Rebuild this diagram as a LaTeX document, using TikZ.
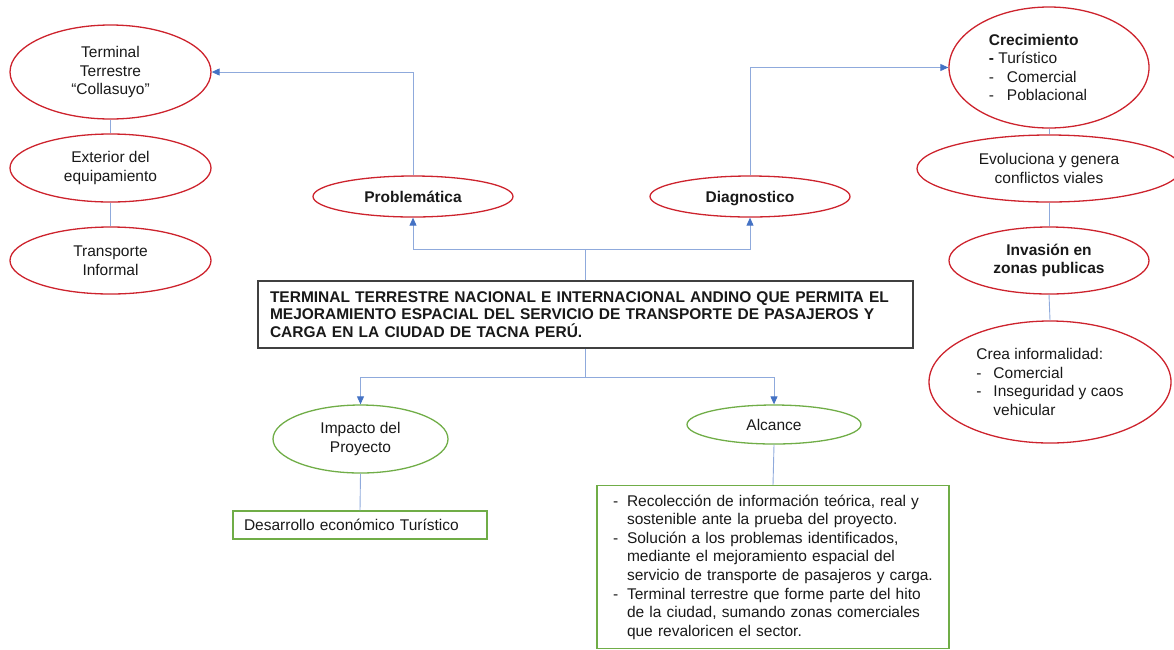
\documentclass[tikz,border=0pt]{standalone}
\usepackage{fontspec}
\setmainfont{Liberation Sans}
\usetikzlibrary{shapes.geometric,arrows.meta}

\definecolor{redline}{RGB}{205,35,45}
\definecolor{greenline}{RGB}{112,173,71}
\definecolor{linkblue}{RGB}{143,170,220}
\definecolor{tipblue}{RGB}{68,114,196}
\definecolor{boxgray}{RGB}{64,64,64}

\tikzset{
  every node/.style={font=\fontsize{15.5}{18.6}\selectfont, text=black!90},
  redell/.style={ellipse, draw=redline, line width=1.3pt, inner sep=0pt, align=center},
  greenell/.style={ellipse, draw=greenline, line width=1.3pt, inner sep=0pt, align=center},
  greenbox/.style={rectangle, draw=greenline, line width=1.3pt, inner ysep=0pt, align=left},
  boldlabel/.style={font=\fontsize{15.5}{18.6}\selectfont\bfseries, text height=12pt, text depth=0pt},
  mainbox/.style={rectangle, draw=boxgray, line width=1.5pt, inner ysep=0pt, inner xsep=12pt,
    align=left, text width=631pt, minimum width=655pt, minimum height=67pt,
    font=\fontsize{15.5}{17.6}\selectfont\bfseries},
  link/.style={draw=linkblue, line width=0.9pt},
  linkarrow/.style={link, -{Triangle[length=8pt,width=7pt,color=tipblue]}},
}

\newcommand{\dashitem}[1]{\makebox[#1][l]{-}}

\begin{document}
\begin{tikzpicture}[x=1pt,y=-1pt]
\useasboundingbox (0,0) rectangle (1174,649);

% left column: problem chain
\node[redell, minimum width=201pt, minimum height=94pt] (t1) at (110.5,72)
  {Terminal\\Terrestre\\“Collasuyo”};
\node[redell, minimum width=201pt, minimum height=68pt] (ext) at (110.5,168)
  {Exterior del\\equipamiento};
\node[redell, minimum width=201pt, minimum height=67pt] (trans) at (110.5,260.5)
  {Transporte\\Informal};

% second level
\node[redell, boldlabel, minimum width=200pt, minimum height=41pt] (prob) at (413,196.5) {Problemática};
\node[redell, boldlabel, minimum width=200pt, minimum height=41pt] (diag) at (750,196.5) {Diagnostico};

% right column: diagnosis chain
\node[redell, align=left, minimum width=200pt, minimum height=121pt] (crec) at (1049,67.5)
  {\textbf{Crecimiento}\\\textbf{-} Turístico\\\dashitem{18pt}Comercial\\\dashitem{18pt}Poblacional\hspace*{22pt}};
\node[redell, minimum width=264pt, minimum height=67pt] (evol) at (1049,168.5)
  {Evoluciona y genera\\conflictos viales};
\node[redell, minimum width=200pt, minimum height=67pt, font=\fontsize{15.5}{18.6}\selectfont\bfseries] (inv) at (1049,260.5)
  {Invasión en\\zonas publicas};
\node[redell, align=left, minimum width=242pt, minimum height=122pt] (crea) at (1050,382)
  {Crea informalidad:\\\dashitem{17pt}Comercial\\\dashitem{17pt}Inseguridad y caos\\\hspace*{17pt}vehicular};

% central title
\node[mainbox] (title) at (585.5,314.5)
  {TERMINAL TERRESTRE NACIONAL E INTERNACIONAL ANDINO QUE PERMITA EL\\
   MEJORAMIENTO ESPACIAL DEL SERVICIO DE TRANSPORTE DE PASAJEROS Y\\
   CARGA EN LA CIUDAD DE TACNA PERÚ.};

% lower branch
\node[greenell, minimum width=175pt, minimum height=68pt] (imp) at (360.5,439)
  {Impacto del\\Proyecto};
\node[greenell, minimum width=174pt, minimum height=39pt] (alc) at (774,424.5) {Alcance};
\node[greenbox, inner xsep=11pt, text width=232pt, minimum height=28pt] (des) at (360,525)
  {Desarrollo económico Turístico};
\node[greenbox, inner xsep=16pt, text width=320pt, minimum height=163pt] (scope) at (773,567)
  {\dashitem{14pt}Recolección de información teórica, real y\\
   \hspace*{14pt}sostenible ante la prueba del proyecto.\\
   \dashitem{14pt}Solución a los problemas identificados,\\
   \hspace*{14pt}mediante el mejoramiento espacial del\\
   \hspace*{14pt}servicio de transporte de pasajeros y carga.\\
   \dashitem{14pt}Terminal terrestre que forme parte del hito\\
   \hspace*{14pt}de la ciudad, sumando zonas comerciales\\
   \hspace*{14pt}que revaloricen el sector.};

% junction points
\coordinate (up) at (title.north |- 0,249);
\coordinate (down) at (title.south |- 0,377);

% connectors
\draw[link] (title.north) -- (up);
\draw[linkarrow] (up) -| (prob.south);
\draw[linkarrow] (up) -| (diag.south);
\draw[linkarrow] (prob.north) |- (t1.east);
\draw[linkarrow] (diag.north) |- (crec.west);
\draw[link] (t1.south) -- (ext.north);
\draw[link] (ext.south) -- (trans.north);
\draw[link] (crec.south) -- (evol.north);
\draw[link] (evol.south) -- (inv.north);
\draw[link] (inv.south) -- (crea.north);
\draw[link] (title.south) -- (down);
\draw[linkarrow] (down) -| (imp.north);
\draw[linkarrow] (down) -| (alc.north);
\draw[link] (imp.south) -- (des.north);
\draw[link] (alc.south) -- (scope.north);
\end{tikzpicture}
\end{document}
